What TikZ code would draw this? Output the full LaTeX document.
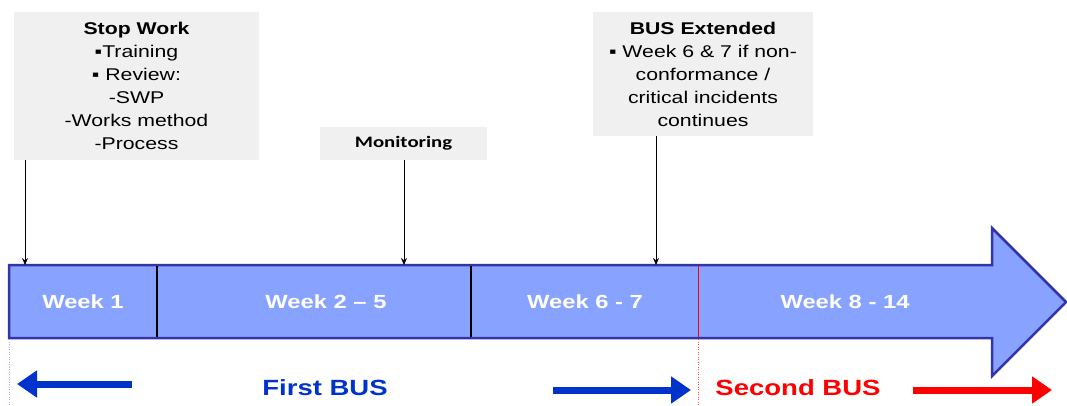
\documentclass[tikz,border=0pt]{standalone}
\usepackage{fontspec}
\setmainfont[FakeStretch=1.25]{Liberation Sans}
\newfontfamily\calibrifont[FakeStretch=1.3]{Carlito}
\usetikzlibrary{arrows.meta,positioning,calc}

\definecolor{barfill}{RGB}{136,162,255}
\definecolor{barline}{RGB}{51,51,170}
\definecolor{notegray}{RGB}{240,240,240}
\definecolor{busblue}{RGB}{0,51,204}

\tikzset{
  notebox/.style={fill=notegray,inner sep=0pt,align=center,font=\fontsize{17}{23}\selectfont},
  weeklabel/.style={text=white,font=\fontsize{19}{22}\selectfont\bfseries},
  callout/.style={black,line width=0.7pt,-{Stealth[length=7pt,width=6pt]}},
  busarrow/.style={line width=7pt,-{Triangle[length=20pt,width=26pt]}},
  buslabel/.style={font=\fontsize{22}{26}\selectfont\bfseries}
}

\begin{document}
\begin{tikzpicture}[x=1pt,y=-1pt]
  \useasboundingbox (0,0) rectangle (1067,405);

  % timeline arrow
  \draw[barline,line width=2.5pt,fill=barfill,line join=miter]
    (9,265) -- (992,265) -- (992,228) -- (1066,302) -- (992,376) -- (992,338) -- (9,338) -- cycle;

  \draw[black,line width=1.5pt] (157,266) -- (157,337);
  \draw[black,line width=1.5pt] (471,266) -- (471,337);
  \draw[red,line width=0.7pt] (698,266) -- (698,337);
  \draw[red!70,line width=0.5pt,dotted] (698,339) -- (698,405);
  \draw[barline!40,line width=0.5pt,dotted] (9,339) -- (9,405);

  \node[weeklabel] (w1) at (83,302) {Week 1};
  \node[weeklabel] (w2) at (326,302) {Week 2 -- 5};
  \node[weeklabel] (w3) at (585,302) {Week 6 - 7};
  \node[weeklabel] (w4) at (845,302) {Week 8 - 14};

  % notes above the bar
  \node[notebox,minimum width=245pt,minimum height=148pt] (stop) at (136.5,86)
    {\textbf{Stop Work}\\▪Training\\▪ Review:\\-SWP\\-Works method\\-Process};
  \node[notebox,minimum width=167pt,minimum height=33pt,font=\calibrifont\fontsize{16}{20}\selectfont\bfseries] (mon) at (403.5,143.5)
    {Monitoring};
  \node[notebox,minimum width=220pt,minimum height=124pt] (ext) at (703,74)
    {\textbf{BUS Extended}\\▪ Week 6 \& 7 if non-\\conformance /\\critical incidents\\continues};

  \coordinate (t1) at (25,265);
  \coordinate (t2) at (404,265);
  \coordinate (t3) at (656,265);
  \draw[callout] (t1 |- stop.south) -- (t1);
  \draw[callout] (t2 |- mon.south) -- (t2);
  \draw[callout] (t3 |- ext.south) -- (t3);

  % BUS periods
  \coordinate (b1) at (132,384);
  \coordinate (b2) at (17,384);
  \coordinate (b3) at (553,390);
  \coordinate (b4) at (691,390);
  \coordinate (b5) at (913,390);
  \coordinate (b6) at (1052,390);
  \draw[busarrow,busblue] (b1) -- (b2);
  \draw[busarrow,busblue] (b3) -- (b4);
  \draw[busarrow,red] (b5) -- (b6);
  \node[buslabel,text=busblue] (first) at (325,388) {First BUS};
  \node[buslabel,text=red] (second) at (798,388) {Second BUS};
\end{tikzpicture}
\end{document}
